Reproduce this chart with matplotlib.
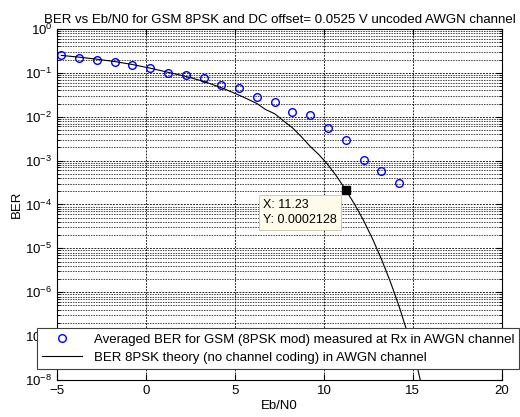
import numpy as np
import matplotlib
matplotlib.use("Agg")
import matplotlib.pyplot as plt

#----------------------------DATA-----------------------------------#

# Eb/N0 (dB) of the measured points
ebno_meas = [-4.77, -3.77, -2.77, -1.77, -0.77, 0.23, 1.23, 2.23, 3.23, 4.23,
             5.23, 6.23, 7.23, 8.23, 9.23, 10.23, 11.23, 12.23, 13.23, 14.23]
# averaged BER measured at Rx
ber_meas = [0.252, 0.222, 0.197, 0.180, 0.154, 0.129, 0.098, 0.088, 0.076, 0.052,
            0.0446, 0.0287, 0.0217, 0.0127, 0.0108, 0.00565, 0.00297, 0.00102,
            0.00059, 0.000315]

# theory curve
ebno_theory = [-4.77, -3.77, -2.77, -1.77, -0.77, 0.23, 1.23, 2.23, 3.23, 4.23,
               5.23, 5.73, 6.23, 6.73, 7.23, 7.73, 8.23, 8.73, 9.23, 9.73,
               10.23, 10.73, 11.23, 11.73, 12.23, 12.73, 13.23, 13.73, 14.23,
               14.73, 15.23, 16.23]
ber_theory = [0.250, 0.228, 0.205, 0.181, 0.155, 0.128, 0.103, 0.083, 0.064, 0.046,
              0.031, 0.025, 0.020, 0.0145, 0.0117, 0.0080, 0.0056, 0.0035,
              0.0021, 0.00135, 0.0008, 0.00043, 0.0002128, 1.0e-4, 4.3e-5,
              1.65e-5, 5.7e-6, 1.75e-6, 4.7e-7, 1.07e-7, 2.1e-8, 4e-10]

# data tip
tip_x = 11.23
tip_y = 0.0002128

leg_labels = ["Averaged BER for GSM (8PSK mod) measured at Rx in AWGN channel",
              "BER 8PSK theory (no channel coding) in AWGN channel"]

#---------------------------PLOT-------------------------------------#

plt.rcParams['font.family'] = ['Liberation Sans', 'DejaVu Sans']
plt.rcParams['font.size'] = 9.5

fig = plt.figure(figsize=(5.2, 4.17), dpi=100)
ax = fig.add_axes([0.110, 0.0887, 0.855, 0.8418])

ax.semilogy(ebno_meas, ber_meas, 'o', color='blue', markerfacecolor='none',
            markersize=5.5, markeredgewidth=1.0, label=leg_labels[0])
ax.semilogy(ebno_theory, ber_theory, '-', color='black', linewidth=0.8,
            label=leg_labels[1])

ax.set_xlim(-5, 20)
ax.set_ylim(1e-8, 1)
ax.set_xticks([-5, 0, 5, 10, 15, 20])
ax.set_yticks([10.0**k for k in range(-8, 1)])

# MATLAB like grid (major + minor, dotted)
ax.grid(True, which='major', color='black', linestyle=(0, (2.2, 1.5)), linewidth=0.6)
ax.grid(True, which='minor', axis='y', color='black', linestyle=(0, (2.2, 1.5)),
        linewidth=0.5)
ax.tick_params(which='both', direction='in', top=True, right=True)
ax.tick_params(which='major', length=4)
ax.tick_params(which='minor', length=2)

ax.set_title("BER vs Eb/N0 for GSM 8PSK and DC offset= 0.0525 V uncoded AWGN channel",
             fontsize=9.5, pad=4)
ax.set_xlabel("Eb/N0", labelpad=2)
ax.set_ylabel("BER", labelpad=2)

# data tip
ax.plot(tip_x, tip_y, 's', color='black', markersize=6)
ax.annotate(f"X: {tip_x}\nY: {tip_y}", xy=(tip_x, tip_y), xytext=(-9, -9),
            textcoords='offset pixels', ha='right', va='top', multialignment='left',
            fontsize=9, linespacing=1.3,
            bbox=dict(boxstyle='square,pad=0.35', facecolor='#FFFBEB',
                      edgecolor='#C8C0A8', linewidth=0.6))

leg = ax.legend(loc='upper left', bbox_to_anchor=(0.071, 0.2134),
                bbox_transform=fig.transFigure, borderaxespad=0,
                fancybox=False, edgecolor='#404040', framealpha=1,
                handlelength=3, handletextpad=0.9, labelspacing=0.45,
                borderpad=0.4, fontsize=9.5)
leg.get_frame().set_linewidth(0.8)

fig.savefig("out.png", dpi=100)
